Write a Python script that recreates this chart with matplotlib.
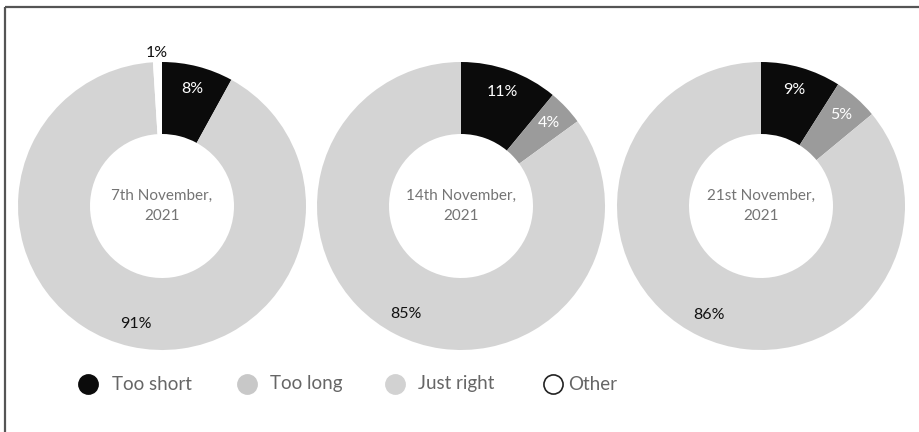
import numpy as np
import matplotlib.pyplot as plt

plt.rcParams['font.family'] = ['Lato', 'DejaVu Sans']

dates = ["7th November,\n2021", "14th November,\n2021", "21st November,\n2021"]
categories = ["Too short", "Too long", "Just right", "Other"]
too_short = [8, 11, 9]
too_long = [0, 4, 5]
just_right = [91, 85, 86]
other = [1, 0, 0]

slice_colors = ["#0b0b0b", "#9b9b9b", "#d4d4d4", "#ffffff"]
legend_colors = ["#0b0b0b", "#c8c8c8", "#d2d2d2", "#ffffff"]
label_colors = ["white", "white", "#111111", "#111111"]

W, H = 919, 432
fig = plt.figure(figsize=(W / 100, H / 100), dpi=100)
ax = fig.add_axes([0, 0, 1, 1])

# frame lines (top and left of the cropped box)
ax.plot([5, W + 5], [H - 7, H - 7], color="#555555", lw=1.6, solid_capstyle='butt')
ax.plot([5, 5], [H - 7, -5], color="#555555", lw=1.6, solid_capstyle='butt')

centers_x = [162, 461, 761]
cy = H - 206
R = 144

for i in range(3):
    vals = [too_short[i], too_long[i], just_right[i], other[i]]
    cx = centers_x[i]
    ax.pie(vals, colors=slice_colors, startangle=90, counterclock=False,
           center=(cx, cy), radius=R, wedgeprops=dict(width=R * 0.5, linewidth=0))
    ax.text(cx, cy, dates[i], ha='center', va='center', fontsize=11,
            color="#747474", linespacing=1.5)
    # percentage labels
    cum = 0
    for j, v in enumerate(vals):
        if v == 0:
            continue
        mid = (cum + v / 2) / 100 * 360
        cum += v
        if v <= 1:
            r = R * 1.06
            col = "#111111"
        else:
            r = R * 0.84
            col = label_colors[j]
        ang = np.deg2rad(90 - mid)
        ax.text(cx + r * np.cos(ang), cy + r * np.sin(ang), f"{v}%",
                ha='center', va='center', fontsize=11.5, color=col)

# legend row
leg_x = [88, 247, 395, 553]
leg_gap = [24, 23, 23, 15]
leg_y = H - 384
for k in range(4):
    c = legend_colors[k]
    ax.scatter([leg_x[k]], [leg_y], s=190, color=c,
               edgecolors=("#222222" if c == "#ffffff" else c), linewidths=1.2)
    ax.text(leg_x[k] + leg_gap[k], leg_y, categories[k], ha='left', va='center',
            fontsize=13.5, color="#666666")

ax.set_xlim(0, W)
ax.set_ylim(0, H)
ax.set_aspect('equal')
ax.axis('off')

fig.savefig("out.png", dpi=100)
